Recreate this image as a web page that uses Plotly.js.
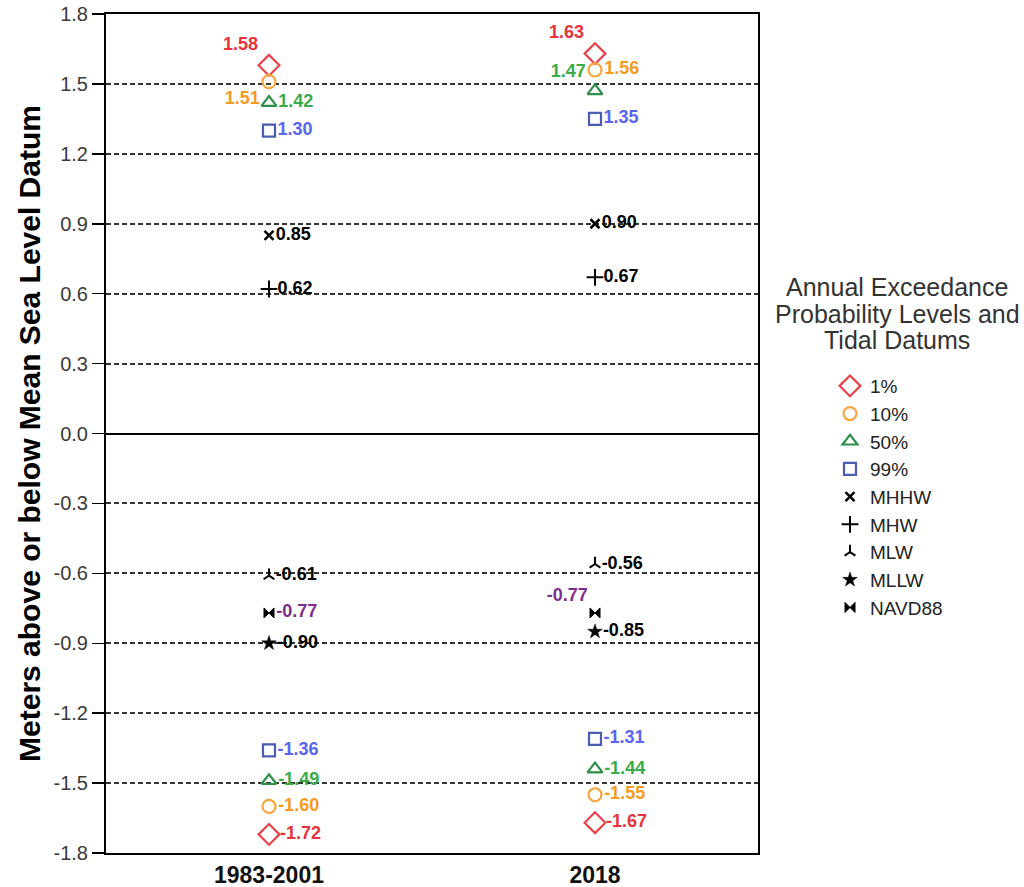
<!DOCTYPE html>
<html>
<head>
<meta charset="utf-8">
<script src="https://cdn.plot.ly/plotly-3.0.1.min.js"></script>
<style>html,body{margin:0;padding:0;background:#fff;}#chart{width:1024px;height:887px;}</style>
</head>
<body>
<div id="chart"></div>
<script>
// Categories
const periods = ["1983-2001", "2018"];

// Annual exceedance probability levels: [upper 1983, upper 2018, lower 1983, lower 2018]
const aep1  = [1.58, 1.63, -1.72, -1.67];
const aep10 = [1.51, 1.56, -1.60, -1.55];
const aep50 = [1.42, 1.47, -1.49, -1.44];
const aep99 = [1.30, 1.35, -1.36, -1.31];

// Tidal datums: [1983-2001, 2018]
const mhhw   = [0.85, 0.90];
const mhw    = [0.62, 0.67];
const mlw    = [-0.61, -0.56];
const mllw   = [-0.90, -0.85];
const navd88 = [-0.77, -0.77];

const yTicks = [-1.8, -1.5, -1.2, -0.9, -0.6, -0.3, 0.0, 0.3, 0.6, 0.9, 1.2, 1.5, 1.8];

const xAep = [periods[0], periods[1], periods[0], periods[1]];
const FONT = "'Liberation Sans', Arial, sans-serif";

function trace(name, x, y, symbol, mcolor, msize, lw, tcolor, tpos) {
  return {
    type: "scatter", mode: "markers+text", name: name, x: x, y: y,
    texttemplate: "%{y:.2f}", textposition: tpos,
    textfont: {family: FONT, size: 18, color: tcolor, weight: "bold"},
    marker: {symbol: symbol, size: msize, color: mcolor,
             line: {color: mcolor, width: lw}},
    cliponaxis: false, hoverinfo: "skip"
  };
}

const data = [
  trace("1%", xAep, aep1, "diamond-open", "#e8434a", 16, 2.2, "#e8323c",
        ["top left", "top left", "middle right", "middle right"]),
  trace("10%", xAep, aep10, "circle-open", "#f6a540", 13, 2.2, "#f39c1f",
        ["bottom left", "middle right", "middle right", "middle right"]),
  trace("50%", xAep, aep50, "triangle-up-open", "#2d8f4a", 13, 2.2, "#3bab4a",
        ["middle right", "top left", "middle right", "middle right"]),
  trace("99%", xAep, aep99, "square-open", "#4b5cb3", 12, 2.2, "#5866f0",
        ["middle right", "middle right", "middle right", "middle right"]),
  trace("MHHW", periods, mhhw, "x-thin", "#000000", 9, 2.5, "#000000", ["middle right", "middle right"]),
  trace("MHW", periods, mhw, "cross-thin", "#000000", 12, 2, "#000000", ["middle right", "middle right"]),
  trace("MLW", periods, mlw, "y-up", "#000000", 9, 2, "#000000", ["middle right", "middle right"]),
  trace("MLLW", periods, mllw, "star", "#000000", 11, 0.5, "#000000", ["middle right", "middle right"]),
  trace("NAVD88", periods, navd88, "bowtie", "#000000", 10, 1, "#7d2d8b", ["middle right", "top left"])
];

const legendTitleLines = ["Annual Exceedance", "Probability Levels and", "Tidal Datums"];
const annotations = legendTitleLines.map((t, i) => ({
  text: t, xref: "paper", yref: "paper",
  x: (897 - 106) / 652, y: (853 - (287 + i * 26.5)) / 839,
  xanchor: "center", yanchor: "middle", showarrow: false,
  font: {family: FONT, size: 25, color: "#333333"}
}));

const layout = {
  width: 1024, height: 887,
  margin: {l: 106, r: 266, t: 14, b: 34},
  paper_bgcolor: "#ffffff", plot_bgcolor: "#ffffff",
  showlegend: true,
  legend: {
    x: (830 - 106) / 652, xanchor: "left", y: (853 - 367) / 839, yanchor: "top",
    font: {family: FONT, size: 19, color: "#222222"},
    bgcolor: "rgba(0,0,0,0)", tracegroupgap: 0, itemwidth: 30
  },
  xaxis: {
    type: "category", range: [-0.5, 1.5],
    showgrid: false, zeroline: false,
    showline: true, linecolor: "#000000", linewidth: 2, mirror: true,
    ticks: "", tickfont: {family: FONT, size: 23, color: "#111111", weight: "bold"},
    fixedrange: true
  },
  yaxis: {
    range: [-1.8, 1.8], tickvals: yTicks, ticktext: yTicks.map(v => v.toFixed(1)),
    showgrid: true, gridcolor: "#333333", gridwidth: 2, griddash: "5px,3px",
    zeroline: true, zerolinecolor: "#000000", zerolinewidth: 2,
    showline: true, linecolor: "#000000", linewidth: 2, mirror: true,
    ticks: "outside", ticklen: 12, tickwidth: 1.5, tickcolor: "#000000",
    tickfont: {family: FONT, size: 20, color: "#3a3a3a"},
    title: {text: "Meters above or below Mean Sea Level Datum", standoff: 4,
            font: {family: FONT, size: 30, color: "#000000", weight: "bold"}},
    automargin: false, fixedrange: true
  },
  annotations: annotations
};

Plotly.newPlot("chart", data, layout, {displayModeBar: false, staticPlot: true});
</script>
</body>
</html>
